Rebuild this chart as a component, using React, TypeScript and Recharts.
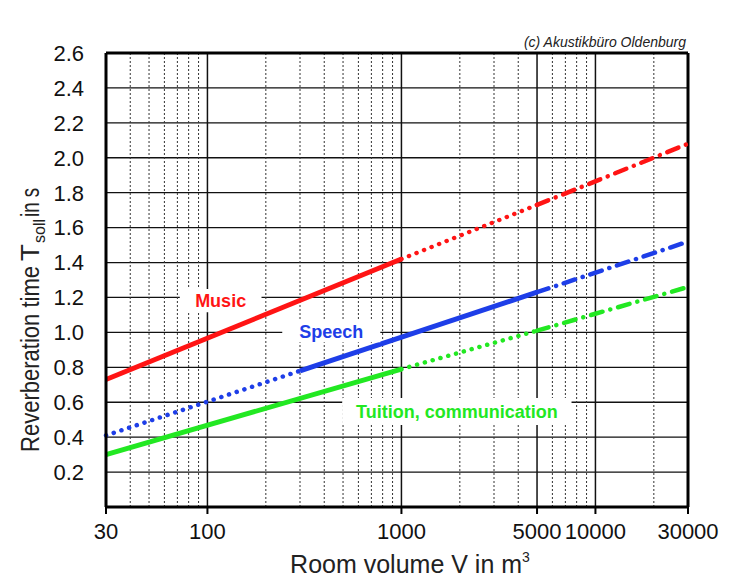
import { LineChart, Line, XAxis, YAxis, ReferenceLine, ReferenceArea } from "recharts";

// room volume V in m³ (points where a line changes style)
const volumes = [30, 300, 1000, 5000, 30000];

// reverberation time T_soll in s, one array per line piece
const musicSolid = [0.73, null, 1.42, null, null];
const musicDotted = [null, null, 1.42, 1.73, null];
const musicDashDot = [null, null, null, 1.73, 2.08];
const speechDotted = [0.41, 0.78, null, null, null];
const speechSolid = [null, 0.78, null, 1.23, null];
const speechDashDot = [null, null, null, 1.23, 1.52];
const tuitionSolid = [0.3, null, 0.79, null, null];
const tuitionDotted = [null, null, 0.79, 1.01, null];
const tuitionDashDot = [null, null, null, 1.01, 1.26];

const xTicks = [30, 100, 1000, 5000, 10000, 30000];
const yTicks = [0.2, 0.4, 0.6, 0.8, 1.0, 1.2, 1.4, 1.6, 1.8, 2.0, 2.2, 2.4, 2.6];
const majorX = [100, 1000, 5000, 10000];
const minorX = [40, 50, 60, 70, 80, 90, 200, 300, 400, 500, 600, 700, 800, 900, 2000, 3000, 4000, 6000, 7000, 8000, 9000, 20000];
const gridY = [0.2, 0.4, 0.6, 0.8, 1.0, 1.2, 1.4, 1.6, 1.8, 2.0, 2.2, 2.4];

const data = volumes.map((v, i) => ({
  v,
  musicSolid: musicSolid[i],
  musicDotted: musicDotted[i],
  musicDashDot: musicDashDot[i],
  speechDotted: speechDotted[i],
  speechSolid: speechSolid[i],
  speechDashDot: speechDashDot[i],
  tuitionSolid: tuitionSolid[i],
  tuitionDotted: tuitionDotted[i],
  tuitionDashDot: tuitionDashDot[i],
}));

const RED = "#ff1414";
const BLUE = "#1e3ee8";
const GREEN = "#22e822";

const FONT = "'Liberation Sans', Arial, sans-serif";

const STYLES: Record<string, any> = {
  solid: { strokeWidth: 5 },
  dotted: { strokeWidth: 4.5, strokeDasharray: "0.1 8", strokeLinecap: "round" },
  dashdot: { strokeWidth: 4.5, strokeDasharray: "12 8 0.1 8", strokeLinecap: "round" },
};

const series = [
  { key: "musicSolid", color: RED, style: "solid" },
  { key: "musicDotted", color: RED, style: "dotted" },
  { key: "musicDashDot", color: RED, style: "dashdot" },
  { key: "speechDotted", color: BLUE, style: "dotted" },
  { key: "speechSolid", color: BLUE, style: "solid" },
  { key: "speechDashDot", color: BLUE, style: "dashdot" },
  { key: "tuitionSolid", color: GREEN, style: "solid" },
  { key: "tuitionDotted", color: GREEN, style: "dotted" },
  { key: "tuitionDashDot", color: GREEN, style: "dashdot" },
];

// white boxes behind the line names
const boxes = [
  { x1: 72, x2: 190, y1: 1.116, y2: 1.248, text: "Music", color: RED },
  { x1: 243, x2: 778, y1: 0.944, y2: 1.07, text: "Speech", color: BLUE },
  { x1: 495, x2: 7530, y1: 0.469, y2: 0.624, text: "Tuition, communication", color: GREEN },
];

const Titles = () => (
  <g>
    <text x={686} y={47} textAnchor="end" fontFamily={FONT} fontStyle="italic" fontSize={14} fill="#222">
      (c) Akustikbüro Oldenburg
    </text>
    <text x={410} y={573} textAnchor="middle" fontFamily={FONT} fontSize={25} fill="#222">
      Room  volume  V in m<tspan dy={-11} fontSize={14}>3</tspan>
    </text>
    {/* rotated y title: x' = -screenY, y' = screenX */}
    <g transform="rotate(-90)" fontFamily={FONT} fill="#222">
      <text x={-452} y={39} fontSize={26} textLength={186} lengthAdjust="spacingAndGlyphs">
        Reverberation time
      </text>
      <text x={-261} y={39} fontSize={26} textLength={17} lengthAdjust="spacingAndGlyphs">
        T
      </text>
      <text x={-243} y={45} fontSize={16} textLength={24} lengthAdjust="spacingAndGlyphs">
        soll
      </text>
      <text x={-217} y={39} fontSize={25} textLength={29} lengthAdjust="spacingAndGlyphs">
        in s
      </text>
    </g>
  </g>
);

export default function App() {
  return (
    <div style={{ position: "absolute", left: 0, top: 0, width: 732, height: 577, background: "#fff" }}>
      <LineChart width={732} height={577} data={data} margin={{ top: 53, right: 44, bottom: 30, left: 46 }}>
        <XAxis
          dataKey="v"
          type="number"
          scale="log"
          domain={[30, 30000]}
          ticks={xTicks}
          height={40}
          tickSize={7}
          tickMargin={9}
          axisLine={{ stroke: "#000", strokeWidth: 3 }}
          tickLine={{ stroke: "#000", strokeWidth: 2 }}
          tick={{ fontFamily: FONT, fontSize: 22, fill: "#111" }}
          interval={0}
        />
        <YAxis
          type="number"
          domain={[0, 2.6]}
          ticks={yTicks}
          width={60}
          tickLine={false}
          tickMargin={16}
          axisLine={{ stroke: "#000", strokeWidth: 3 }}
          tick={{ fontFamily: FONT, fontSize: 22, fill: "#111" }}
          tickFormatter={(t: number) => t.toFixed(1)}
          interval={0}
          label={{ content: () => <Titles /> }}
        />
        {gridY.map((y) => (
          <ReferenceLine key={"h" + y} y={y} stroke="#111" strokeWidth={1.3} />
        ))}
        {minorX.map((x) => (
          <ReferenceLine key={"m" + x} x={x} stroke="#333" strokeWidth={1} strokeDasharray="2 2" />
        ))}
        {majorX.map((x) => (
          <ReferenceLine key={"M" + x} x={x} stroke="#111" strokeWidth={1.5} />
        ))}
        <ReferenceLine y={2.6} stroke="#000" strokeWidth={3} />
        <ReferenceLine x={30000} stroke="#000" strokeWidth={3} />
        {boxes.map((b) => (
          <ReferenceArea
            key={b.text}
            x1={b.x1}
            x2={b.x2}
            y1={b.y1}
            y2={b.y2}
            fill="#fff"
            fillOpacity={1}
            stroke="none"
            zIndex={500}
            label={{
              value: b.text,
              position: "center",
              fill: b.color,
              fontFamily: FONT,
              fontWeight: "bold",
              fontSize: 18,
            }}
          />
        ))}
        {series.map((s) => (
          <Line
            key={s.key}
            dataKey={s.key}
            stroke={s.color}
            {...STYLES[s.style]}
            dot={false}
            activeDot={false}
            connectNulls
            isAnimationActive={false}
          />
        ))}
      </LineChart>
    </div>
  );
}
